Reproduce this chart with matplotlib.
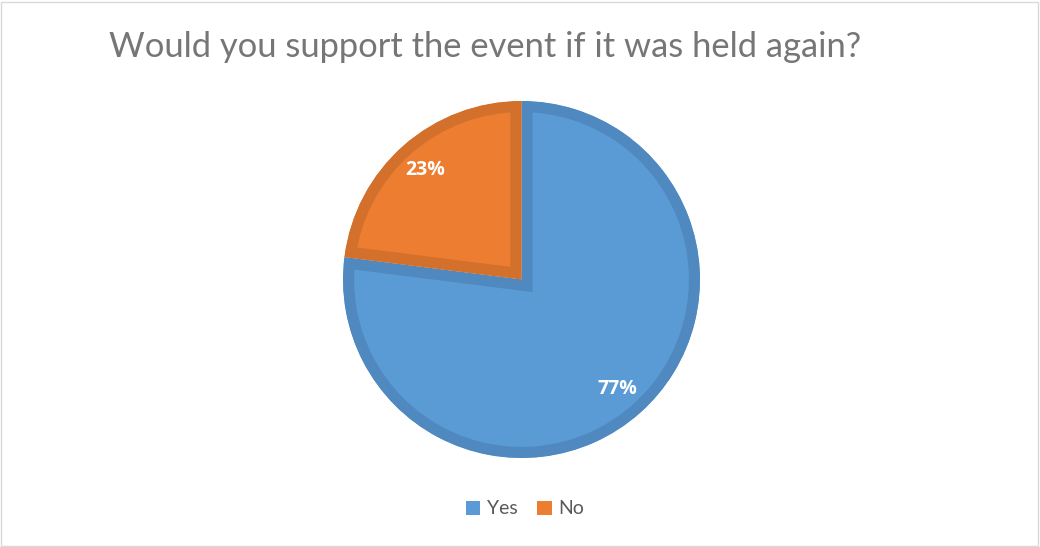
import matplotlib
matplotlib.use("Agg")
import matplotlib.pyplot as plt
from matplotlib.patches import Rectangle, Wedge

# Survey answers
categories = ["Yes", "No"]
shares = [77, 23]

fill_colors = ["#5B9BD5", "#ED7D31"]
edge_colors = ["#4F89C0", "#D2702C"]

W, H = 1040, 547
fig = plt.figure(figsize=(W / 100, H / 100), dpi=100)
fig.patch.set_facecolor("white")

# light frame around the chart area
fig.patches.append(Rectangle((1 / W, 1 / H), (W - 3) / W, (H - 3) / H,
                             transform=fig.transFigure, fill=False,
                             edgecolor="#D9D9D9", linewidth=1))

# square axes holding the pie
cx, cy, r = 521.5, H - 279.5, 178.5
ax = fig.add_axes([(cx - r) / W, (cy - r) / H, 2 * r / W, 2 * r / H])

wedges, texts, autotexts = ax.pie(
    shares, colors=fill_colors, startangle=90, counterclock=False,
    radius=1.0, autopct="%d%%", pctdistance=0.815,
    wedgeprops=dict(linewidth=16, joinstyle="miter"),
    textprops=dict(color="white", fontsize=14, fontweight="bold",
                   family="Open Sans"),
)
ax.set_xlim(-1, 1)
ax.set_ylim(-1, 1)
ax.set_aspect("equal")
ax.axis("off")

# borders drawn only on the inside of each slice
for w, ec in zip(wedges, edge_colors):
    w.set_edgecolor(ec)
    clip = Wedge(w.center, w.r, w.theta1, w.theta2, transform=ax.transData)
    w.set_clip_on(True)
    w.set_clip_path(clip)

fig.text(109 / W, 1 - 47 / H, "Would you support the event if it was held again?",
         ha="left", va="center", fontsize=24.8, color="#767676", family="Lato")

leg = fig.legend(wedges, categories, loc="center", bbox_to_anchor=(525 / W, 1 - 509 / H),
                 ncol=2, frameon=False, handlelength=0.75, handleheight=0.75,
                 handletextpad=0.35, columnspacing=1.0,
                 prop=dict(family="Lato", size=14))
for t in leg.get_texts():
    t.set_color("#595959")
for h, c in zip(leg.legend_handles, fill_colors):
    h.set_facecolor(c)
    h.set_edgecolor(c)
    h.set_linewidth(0)
    h.set_clip_on(False)

fig.savefig("out.png", dpi=100, facecolor="white")
